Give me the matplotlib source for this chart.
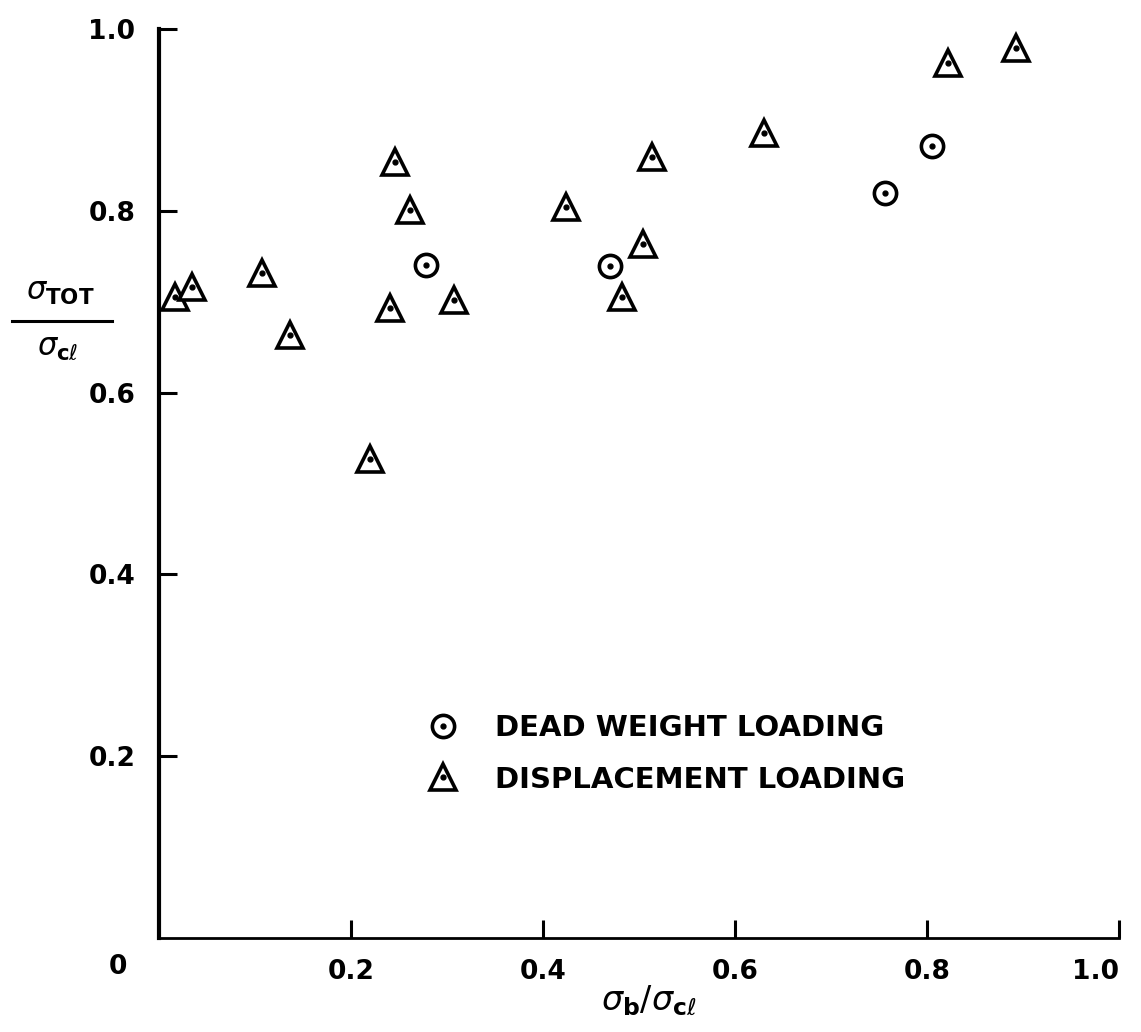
import matplotlib.pyplot as plt
from matplotlib.lines import Line2D

# dead weight loading
dw_x = [0.278, 0.470, 0.756, 0.805]
dw_y = [0.740, 0.739, 0.820, 0.871]

# displacement loading
disp_x = [0.017, 0.034, 0.107, 0.136, 0.220, 0.246, 0.261, 0.241,
          0.307, 0.424, 0.482, 0.504, 0.514, 0.630, 0.822, 0.893]
disp_y = [0.705, 0.716, 0.732, 0.663, 0.527, 0.854, 0.801, 0.693,
          0.702, 0.804, 0.705, 0.763, 0.859, 0.886, 0.963, 0.979]

ticks = [0.2, 0.4, 0.6, 0.8, 1.0]
tick_labels = ["0.2", "0.4", "0.6", "0.8", "1.0"]

plt.rcParams['font.family'] = ['DejaVu Sans']
plt.rcParams['mathtext.fontset'] = 'dejavusans'

fig = plt.figure(figsize=(11.41, 10.32), dpi=100)
ax = fig.add_axes([159/1141, 94/1032, 960/1141, 909/1032])

tri, = ax.plot(disp_x, disp_y, ls='none', marker='^', ms=19, mfc='white',
               mec='black', mew=2.6, zorder=3)
tri_dot, = ax.plot(disp_x, disp_y, ls='none', marker='o', ms=3.5,
                   color='black', zorder=4)
circ, = ax.plot(dw_x, dw_y, ls='none', marker='o', ms=16, mfc='white',
                mec='black', mew=2.6, zorder=3)
circ_dot, = ax.plot(dw_x, dw_y, ls='none', marker='o', ms=3.5,
                    color='black', zorder=4)

ax.set_xlim(0, 1.0)
ax.set_ylim(0, 1.0)
for s in ['top', 'right']:
    ax.spines[s].set_visible(False)
ax.spines['left'].set_linewidth(3)
ax.spines['bottom'].set_linewidth(2)

ax.set_xticks(ticks)
ax.set_xticklabels(tick_labels)
ax.set_yticks(ticks)
ax.set_yticklabels(tick_labels)
ax.tick_params(axis='both', direction='in', length=13, width=2.2,
               labelsize=19, pad=17)
ax.tick_params(axis='x', pad=15)
for lab in ax.get_xticklabels() + ax.get_yticklabels():
    lab.set_fontweight('bold')
# keep the last x label inside the figure
ax.get_xticklabels()[-1].set_ha('right')
ax.get_xticklabels()[-1].set_x(1.0)

# origin label sits left of the corner
ax.text(-0.043, -0.032, "0", transform=ax.transAxes, ha='center',
        va='center', fontsize=19, fontweight='bold')

ax.set_xlabel(r'$\sigma_{\mathbf{b}}/\sigma_{\mathbf{c}\ell}$', fontsize=24)
ax.xaxis.set_label_coords(0.51, -0.05)
ax.xaxis.label.set_va('top')

# stacked ratio label on the left
W, H = 1141, 1032
fig.text(60/W, 1 - 292/H, r'$\sigma_{\mathbf{TOT}}$', ha='center',
         va='center', fontsize=22)
fig.add_artist(Line2D([12/W, 112/W], [1 - 321/H, 1 - 321/H], color='black',
                      lw=2.2, transform=fig.transFigure))
fig.text(58/W, 1 - 348/H, r'$\sigma_{\mathbf{c}\ell}$', ha='center',
         va='center', fontsize=22)

leg = ax.legend([(circ, circ_dot), (tri, tri_dot)],
                ["DEAD WEIGHT LOADING", "DISPLACEMENT LOADING"],
                loc='upper left', bbox_to_anchor=(0.25, 0.275), frameon=False,
                markerscale=1.0, handlelength=1.2, handletextpad=1.2,
                labelspacing=0.8, prop={'size': 21, 'weight': 'bold'})

plt.savefig("out.png")
